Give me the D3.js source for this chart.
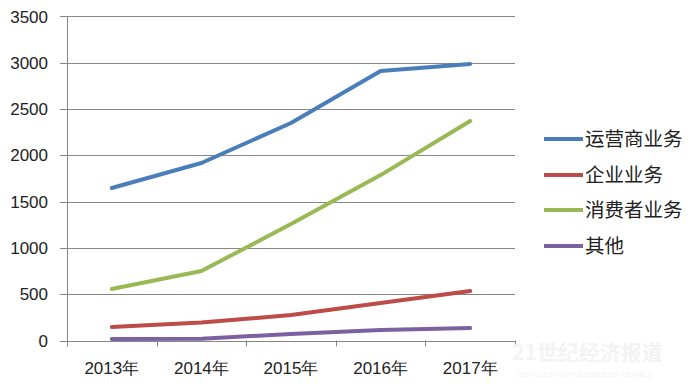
<!DOCTYPE html>
<html><head><meta charset="utf-8">
<script src="https://cdn.jsdelivr.net/npm/d3@7"></script>
<style>body{margin:0;background:#fff}svg{display:block}</style>
</head><body>
<svg id="c" width="700" height="390"></svg>
<script>
const categories = ["2013年","2014年","2015年","2016年","2017年"];
const seriesNames = ["运营商业务","企业业务","消费者业务","其他"];
const operatorVals = [1647, 1917, 2349, 2910, 2986];
const enterpriseVals = [146, 194, 275, 405, 535];
const consumerVals = [556, 750, 1258, 1786, 2370];
const otherVals = [16, 20, 70, 113, 135];
const yTicks = [0,500,1000,1500,2000,2500,3000,3500];
const colors = ["#4a7ebb","#be4b48","#98b954","#7d60a0"];

(function(){
const series = [operatorVals, enterpriseVals, consumerVals, otherVals];
const svg = d3.select("#c");
const pL = 67, pR = 515, pT = 16.4, pB = 340.5;
const x = d3.scaleBand().domain(categories).range([pL, pR]);
const y = d3.scaleLinear().domain([0, 3500]).range([pB, pT]);
const numFont = "'Liberation Sans', Arial, sans-serif";
const cjk = "'Noto Sans CJK SC', sans-serif";

svg.append("g").selectAll("line").data(yTicks).join("line")
  .attr("x1", pL - 7).attr("x2", pR)
  .attr("y1", d => Math.round(y(d)) + 0.5).attr("y2", d => Math.round(y(d)) + 0.5)
  .attr("stroke", "#868686").attr("stroke-width", 1);
svg.append("line").attr("x1", pL + 0.5).attr("x2", pL + 0.5)
  .attr("y1", pT).attr("y2", pB + 6).attr("stroke", "#868686");
const bounds = categories.map(c => x(c)).concat([pR]);
svg.append("g").selectAll("line").data(bounds).join("line")
  .attr("x1", d => Math.round(d) + 0.5).attr("x2", d => Math.round(d) + 0.5)
  .attr("y1", pB).attr("y2", pB + 6).attr("stroke", "#868686");
svg.append("g").selectAll("text").data(yTicks).join("text")
  .attr("x", 48).attr("y", d => y(d)).attr("dy", "0.36em")
  .attr("text-anchor", "end").attr("font-family", numFont).attr("font-size", 17)
  .attr("fill", "#222").text(d => d);
svg.append("g").selectAll("text").data(categories).join("text")
  .attr("x", d => x(d) + x.bandwidth()/2).attr("y", 374)
  .attr("text-anchor", "middle").attr("font-family", numFont).attr("font-size", 17)
  .attr("fill", "#222").text(d => d);

const line = d3.line().x((d,i) => x(categories[i]) + x.bandwidth()/2).y(d => y(d));
series.forEach((s, k) => {
  svg.append("path").attr("d", line(s)).attr("fill", "none")
    .attr("stroke", colors[k]).attr("stroke-width", 4)
    .attr("stroke-linejoin", "round").attr("stroke-linecap", "round");
});

const legY = [139, 175, 210, 246];
const leg = svg.append("g");
seriesNames.forEach((n, k) => {
  leg.append("line").attr("x1", 544).attr("x2", 583).attr("y1", legY[k]).attr("y2", legY[k])
    .attr("stroke", colors[k]).attr("stroke-width", 4);
  leg.append("text").attr("x", 585).attr("y", legY[k]).attr("dy", "0.36em")
    .attr("font-family", cjk).attr("font-size", 19.5).attr("fill", "#222").text(n);
});

svg.append("text").attr("x", 512).attr("y", 360).attr("font-family", cjk)
  .attr("font-weight", "bold").attr("font-size", 21).attr("fill", "#f3f3f3").text("21世纪经济报道");
svg.append("text").attr("x", 516).attr("y", 377).attr("font-family", numFont)
  .attr("font-style", "italic").attr("font-size", 8).attr("fill", "#f3f3f3").text("21ST CENTURY BUSINESS HERALD");
})();
</script>
</body></html>
